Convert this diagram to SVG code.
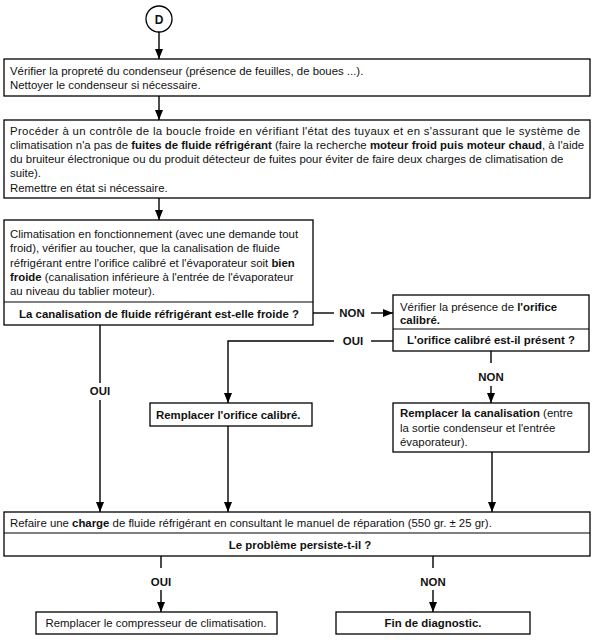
<svg xmlns="http://www.w3.org/2000/svg" width="594" height="643" viewBox="0 0 594 643">
<style>
.box{fill:#fff;stroke:#000;stroke-width:1.3}
.dv{stroke:#000;stroke-width:1.2}
text{font-family:"Liberation Sans",Arial,sans-serif;font-size:11.4px;fill:#111}
.b{font-weight:bold}
.m{text-anchor:middle}
.ln{fill:none;stroke:#000;stroke-width:1.4}
</style>
<defs>
<marker id="ah" viewBox="0 0 10 10" refX="10" refY="5" markerWidth="10" markerHeight="10" markerUnits="userSpaceOnUse" orient="auto">
<path d="M0,1 L10,5 L0,9 Z" fill="#000"/>
</marker>
</defs>
<rect width="594" height="643" fill="#fff"/>

<g id="connectors">
<path class="ln" d="M159,32 V59" marker-end="url(#ah)"/>
<path class="ln" d="M159,96 V120" marker-end="url(#ah)"/>
<path class="ln" d="M159,198 V220" marker-end="url(#ah)"/>
<path class="ln" d="M313,313 H334"/>
<path class="ln" d="M371,313 H393" marker-end="url(#ah)"/>
<path class="ln" d="M393,341 H371"/>
<path class="ln" d="M334,341 H228 V403" marker-end="url(#ah)"/>
<path class="ln" d="M491,351 V363"/>
<path class="ln" d="M491,386 V403" marker-end="url(#ah)"/>
<path class="ln" d="M100,325 V383"/>
<path class="ln" d="M100,400 V512" marker-end="url(#ah)"/>
<path class="ln" d="M228,426 V512" marker-end="url(#ah)"/>
<path class="ln" d="M492,452 V512" marker-end="url(#ah)"/>
<path class="ln" d="M161,556 V568"/>
<path class="ln" d="M161,590 V612" marker-end="url(#ah)"/>
<path class="ln" d="M433,556 V568"/>
<path class="ln" d="M433,590 V612" marker-end="url(#ah)"/>
<text class="b m" x="352" y="317">NON</text>
<text class="b m" x="353" y="345">OUI</text>
<text class="b m" x="491" y="381">NON</text>
<text class="b m" x="100" y="395">OUI</text>
<text class="b m" x="161" y="586">OUI</text>
<text class="b m" x="433" y="586">NON</text>
</g>

<g id="start">
<circle cx="159" cy="19" r="13" fill="#fff" stroke="#000" stroke-width="1.3"/>
<text class="b m" x="159" y="23.5" style="font-size:12px">D</text>
</g>

<g id="condenseur">
<rect class="box" x="4" y="59" width="586" height="37"/>
<text x="10" y="75">Vérifier la propreté du condenseur (présence de feuilles, de boues ...).</text>
<text x="10" y="88.5">Nettoyer le condenseur si nécessaire.</text>
</g>

<g id="boucle">
<rect class="box" x="4" y="120" width="586" height="78"/>
<text x="10" y="134.5" textLength="570" lengthAdjust="spacing">Procéder à un contrôle de la boucle froide en vérifiant l'état des tuyaux et en s'assurant que le système de</text>
<text x="10" y="148.8">climatisation n'a pas de <tspan class="b">fuites de fluide réfrigérant</tspan> (faire la recherche <tspan class="b">moteur froid puis moteur chaud</tspan>, à l'aide</text>
<text x="10" y="163">du bruiteur électronique ou du produit détecteur de fuites pour éviter de faire deux charges de climatisation de</text>
<text x="10" y="177.4">suite).</text>
<text x="10" y="191.7">Remettre en état si nécessaire.</text>
</g>

<g id="canalisation">
<rect class="box" x="4" y="220" width="309" height="105"/>
<line class="dv" x1="4" y1="302" x2="313" y2="302"/>
<text x="10" y="237.5">Climatisation en fonctionnement (avec une demande tout</text>
<text x="10" y="252">froid), vérifier au toucher, que la canalisation de fluide</text>
<text x="10" y="266.5">réfrigérant entre l'orifice calibré et l'évaporateur soit <tspan class="b">bien</tspan></text>
<text x="10" y="281"><tspan class="b">froide</tspan> (canalisation inférieure à l'entrée de l'évaporateur</text>
<text x="10" y="295">au niveau du tablier moteur).</text>
<text class="b m" x="159" y="317.5">La canalisation de fluide réfrigérant est-elle froide ?</text>
</g>

<g id="orifice">
<rect class="box" x="393" y="295" width="196" height="56"/>
<line class="dv" x1="393" y1="329" x2="589" y2="329"/>
<text x="400" y="311">Vérifier la présence de <tspan class="b">l'orifice</tspan></text>
<text x="400" y="323.5" class="b">calibré.</text>
<text class="b m" x="491" y="344">L'orifice calibré est-il présent ?</text>
</g>

<g id="remplacer-orifice">
<rect class="box" x="150" y="403" width="162" height="23"/>
<text class="b" x="156" y="418.5">Remplacer l'orifice calibré.</text>
</g>

<g id="remplacer-canalisation">
<rect class="box" x="393" y="403" width="196" height="49"/>
<text x="400" y="417"><tspan class="b">Remplacer la canalisation</tspan> (entre</text>
<text x="400" y="431.5">la sortie condenseur et l'entrée</text>
<text x="400" y="446">évaporateur).</text>
</g>

<g id="charge">
<rect class="box" x="4" y="512" width="586" height="44"/>
<line class="dv" x1="4" y1="533" x2="590" y2="533"/>
<text x="10" y="526.5">Refaire une <tspan class="b">charge</tspan> de fluide réfrigérant en consultant le manuel de réparation (550 gr. ± 25 gr).</text>
<text class="b m" x="300" y="548.5">Le problème persiste-t-il ?</text>
</g>

<g id="compresseur">
<rect class="box" x="36" y="612" width="241" height="22"/>
<text class="m" x="156" y="627">Remplacer le compresseur de climatisation.</text>
</g>

<g id="fin">
<rect class="box" x="336" y="612" width="194" height="22"/>
<text class="b m" x="433" y="627">Fin de diagnostic.</text>
</g>
</svg>
